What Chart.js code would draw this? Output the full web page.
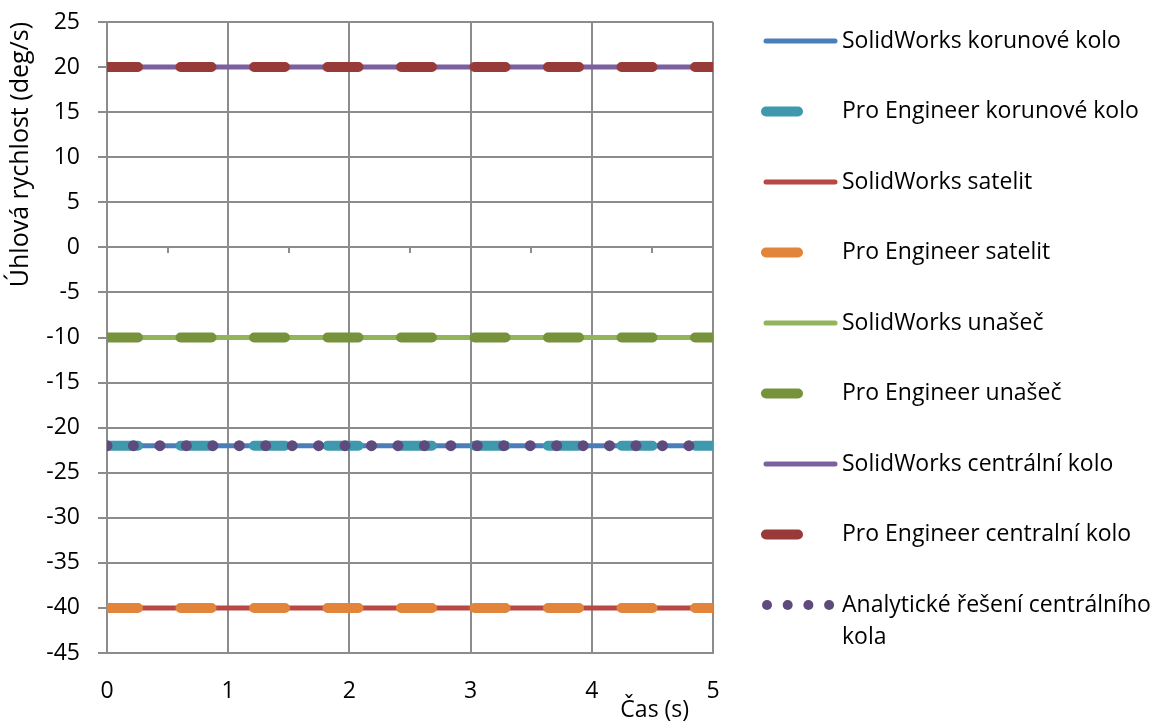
<!DOCTYPE html>
<html>
<head>
<meta charset="utf-8">
<script src="https://cdn.jsdelivr.net/npm/chart.js@4"></script>
<style>
  body { margin: 0; background: #fff; }
  canvas { display: block; }
</style>
</head>
<body>
<canvas id="graph" width="1157" height="724"></canvas>
<script>
// time axis (s)
const times = [0, 1, 2, 3, 4, 5];

// angular velocities (deg/s)
const swKorunove = [-22, -22, -22, -22, -22, -22];
const peKorunove = [-22, -22, -22, -22, -22, -22];
const swSatelit = [-40, -40, -40, -40, -40, -40];
const peSatelit = [-40, -40, -40, -40, -40, -40];
const swUnasec = [-10, -10, -10, -10, -10, -10];
const peUnasec = [-10, -10, -10, -10, -10, -10];
const swCentralni = [20, 20, 20, 20, 20, 20];
const peCentralni = [20, 20, 20, 20, 20, 20];
const analytCentralni = [-22, -22, -22, -22, -22, -22];

const yTicks = { min: -45, max: 25, step: 5 };
const xTicks = { min: 0, max: 5, step: 1 };

const gridColor = '#8c8c8c';
const fontFamily = '"Open Sans", sans-serif';
const fontSize = 23;

function pts(values) {
    return values.map((v, i) => ({ x: times[i], y: v }));
}

function solid(label, values, color) {
    return { label: label, data: pts(values), borderColor: color, backgroundColor: color,
        borderWidth: 5, borderCapStyle: 'round', pointRadius: 0, fill: false };
}
function dashed(label, values, color) {
    return { label: label, data: pts(values), borderColor: color, backgroundColor: color,
        borderWidth: 10, borderDash: [31, 42.5], borderCapStyle: 'round', pointRadius: 0, fill: false };
}
function dotted(label, values, color) {
    return { label: label, data: pts(values), borderColor: color, backgroundColor: color,
        borderWidth: 11, borderDash: [0, 26.45], borderCapStyle: 'round', pointRadius: 0, fill: false };
}

// legend order; drawn reversed so later series end up on top
let series = [
    solid('SolidWorks korunové kolo', swKorunove, '#4a7ebb'),
    dashed('Pro Engineer korunové kolo', peKorunove, '#3f99ae'),
    solid('SolidWorks satelit', swSatelit, '#b94744'),
    dashed('Pro Engineer satelit', peSatelit, '#e2843a'),
    solid('SolidWorks unašeč', swUnasec, '#93b55a'),
    dashed('Pro Engineer unašeč', peUnasec, '#76933c'),
    solid('SolidWorks centrální kolo', swCentralni, '#7b5f9e'),
    dashed('Pro Engineer centralní kolo', peCentralni, '#983a38'),
    dotted('Analytické řešení centrálního kola', analytCentralni, '#5f4a7e')
];

// legend drawn by hand so the long label can wrap
const sideLegend = {
    id: 'sideLegend',
    afterDraw(chart) {
        const ctx = chart.ctx;
        ctx.save();
        ctx.font = fontSize + 'px ' + fontFamily;
        ctx.textBaseline = 'middle';
        series.forEach((ds, i) => {
            const y = 41 + i * 70.5;
            ctx.strokeStyle = ds.borderColor;
            ctx.fillStyle = ds.borderColor;
            ctx.lineCap = 'round';
            if (ds.borderDash && ds.borderDash[0] === 0) {
                for (let k = 0; k < 4; k++) {
                    ctx.beginPath();
                    ctx.arc(767 + k * 20.7, y, 5, 0, Math.PI * 2);
                    ctx.fill();
                }
            } else if (ds.borderDash) {
                ctx.lineWidth = 10;
                ctx.beginPath();
                ctx.moveTo(766, y);
                ctx.lineTo(798, y);
                ctx.stroke();
            } else {
                ctx.lineWidth = 5;
                ctx.beginPath();
                ctx.moveTo(766, y);
                ctx.lineTo(835, y);
                ctx.stroke();
            }
            // wrap text
            ctx.fillStyle = '#000';
            let words = ds.label.split(' ');
            let line = '';
            let ly = y;
            words.forEach(w => {
                let test = line ? line + ' ' + w : w;
                if (ctx.measureText(test).width > 310 && line) {
                    ctx.fillText(line, 842, ly);
                    line = w;
                    ly += 32;
                } else {
                    line = test;
                }
            });
            ctx.fillText(line, 842, ly);
        });
        ctx.restore();
    }
};

const graph = document.getElementById('graph');
let chart = new Chart(graph, {
    type: 'line',
    data: {
        datasets: series.slice().reverse()
    },
    options: {
        responsive: false,
        animation: false,
        layout: { padding: { top: 22, right: 444, bottom: 0, left: 0 } },
        plugins: {
            legend: { display: false },
            tooltip: { enabled: false }
        },
        scales: {
            x: {
                type: 'linear',
                min: xTicks.min,
                max: xTicks.max,
                ticks: { stepSize: xTicks.step, padding: 25, color: '#000',
                    font: { family: fontFamily, size: fontSize } },
                grid: { color: gridColor, lineWidth: 2, drawTicks: false },
                border: { color: gridColor, width: 2 },
                title: { display: true, text: 'Čas (s)\u00a0\u00a0\u00a0\u00a0', align: 'end', color: '#000', padding: 0,
                    font: { family: fontFamily, size: fontSize } },
                afterFit: s => { s.height = 71; s.paddingLeft = 0; s.paddingRight = 0; }
            },
            x0: {
                type: 'linear',
                position: { y: 0 },
                min: xTicks.min,
                max: xTicks.max,
                ticks: { stepSize: 0.5, display: false },
                grid: { color: gridColor, lineWidth: 2, drawOnChartArea: false, tickLength: 6 },
                border: { display: false }
            },
            y: {
                min: yTicks.min,
                max: yTicks.max,
                ticks: { stepSize: yTicks.step, padding: 18, color: '#000',
                    font: { family: fontFamily, size: fontSize } },
                grid: { color: gridColor, lineWidth: 2, tickLength: 9 },
                border: { color: gridColor, width: 2 },
                title: { display: true, text: 'Úhlová rychlost (deg/s)', align: 'end', color: '#000',
                    padding: { top: 6, bottom: 0 },
                    font: { family: fontFamily, size: 25 } },
                afterFit: s => { s.width = 107; s.paddingTop = 0; s.paddingBottom = 0; }
            }
        }
    },
    plugins: [sideLegend]
});
</script>
</body>
</html>
